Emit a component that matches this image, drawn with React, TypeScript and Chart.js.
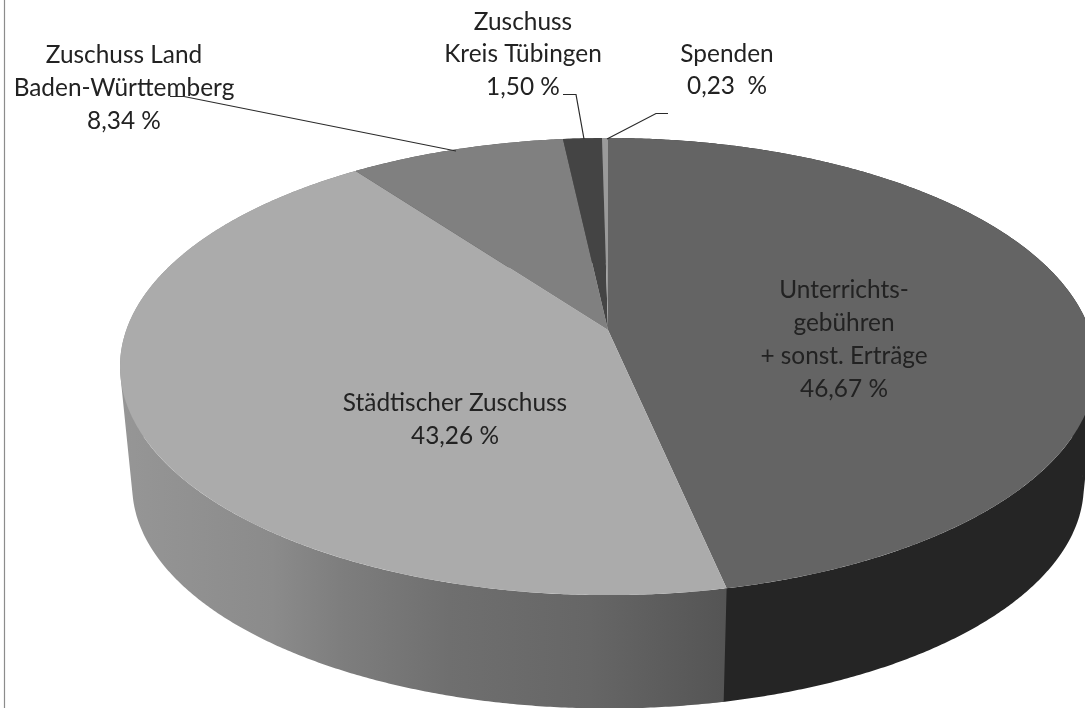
import React, { useEffect, useRef } from "react";
import { Chart, ArcElement, PieController, registerables } from "chart.js";

const categories = [
  ["Unterrichts-", "gebühren", "+ sonst. Erträge"],
  ["Städtischer Zuschuss"],
  ["Zuschuss Land", "Baden-Württemberg"],
  ["Zuschuss", "Kreis Tübingen"],
  ["Spenden"],
];
const shares = [46.67, 43.26, 8.34, 1.5, 0.23];
const shareLabels = ["46,67 %", "43,26 %", "8,34 %", "1,50 %", "0,23  %"];
const faceColours = ["#646464", "#ababab", "#808080", "#444444", "#9a9a9a"];

// Perspective view of the disc (angles come from the chart's arc elements)
const view = { cx: 608, cy: 330, a: 481.7, b: 222.7, k: 0.16 };
const floor = { dy: 120, s: 0.975 };

const project = (angle: number, lower = false) => {
  const u = Math.cos(angle), v = Math.sin(angle), w = 1 - view.k * v;
  const s = lower ? floor.s : 1;
  return {
    x: view.cx + (s * view.a * u) / w,
    y: view.cy + (lower ? floor.dy : 0) + (s * view.b * v) / w,
  };
};

class Arc3D extends ArcElement {
  static id = "arc3d";
  draw(ctx: CanvasRenderingContext2D) {
    const { startAngle, endAngle } = this as any;
    const steps = Math.max(2, Math.ceil((endAngle - startAngle) * 120));
    ctx.save();
    ctx.beginPath();
    ctx.moveTo(view.cx, view.cy);
    for (let i = 0; i <= steps; i++) {
      const p = project(startAngle + ((endAngle - startAngle) * i) / steps);
      ctx.lineTo(p.x, p.y);
    }
    ctx.closePath();
    ctx.fillStyle = (this as any).options.backgroundColor;
    ctx.fill();
    ctx.restore();
  }
}

class Pie3D extends PieController {
  static id = "pie3d";
  static defaults = { dataElementType: "arc3d" };
}

Chart.register(...registerables, Arc3D, Pie3D);

const wallFill = (ctx: CanvasRenderingContext2D, index: number) => {
  if (index !== 1) return index === 0 ? "#252525" : "#555555";
  const g = ctx.createLinearGradient(120, 0, 730, 0);
  [
    [0, "#969696"],
    [0.25, "#8b8b8b"],
    [0.36, "#7e7e7e"],
    [0.54, "#6f6f6f"],
    [0.77, "#666666"],
    [1, "#545454"],
  ].forEach(([o, c]) => g.addColorStop(o as number, c as string));
  return g;
};

const wallsPlugin = {
  id: "walls",
  beforeDatasetsDraw(chart: any) {
    const { ctx } = chart;
    chart.getDatasetMeta(0).data.forEach((arc: any, index: number) => {
      // a slight overlap under the next slice keeps the seam closed
      const start = arc.startAngle;
      const end = arc.endAngle + 0.004;
      const n = Math.ceil((end - start) * 150);
      ctx.save();
      ctx.fillStyle = wallFill(ctx, index);
      // every quad goes into one path, all wound the same way, so no seams or holes show
      ctx.beginPath();
      for (let i = 0; i < n; i++) {
        const a0 = start + ((end - start) * i) / n;
        const a1 = start + ((end - start) * (i + 1)) / n;
        const p = [project(a0), project(a1), project(a1, true), project(a0, true)];
        let area = 0;
        p.forEach((q, j) => {
          const r = p[(j + 1) % 4];
          area += q.x * r.y - r.x * q.y;
        });
        if (area < 0) p.reverse();
        ctx.moveTo(p[0].x, p[0].y);
        for (let j = 1; j < 4; j++) ctx.lineTo(p[j].x, p[j].y);
        ctx.closePath();
      }
      ctx.fill("nonzero");
      ctx.restore();
    });
  },
};

const labelLayout = [
  { x: 844, y: 290, lh: 33 },
  { x: 455, y: 403, lh: 33 },
  { x: 124, y: 55, lh: 33 },
  { x: 523, y: 22, lh: 32.5 },
  { x: 727, y: 54, lh: 32.5 },
];
const leaderLines = [
  [[170, 96.5], [184, 96.5], [456, 151]],
  [[563, 94.5], [576, 94.5], [584, 139]],
  [[668, 113.5], [656, 113.5], [607, 139]],
];

const annotationPlugin = {
  id: "annotations",
  afterDatasetsDraw(chart: any) {
    const { ctx } = chart;
    ctx.save();
    ctx.strokeStyle = "#8c8c8c";
    ctx.lineWidth = 1.2;
    ctx.beginPath();
    ctx.moveTo(4.5, 0);
    ctx.lineTo(4.5, 708);
    ctx.stroke();

    ctx.strokeStyle = "#2a2a2a";
    ctx.lineWidth = 1.2;
    leaderLines.forEach((line) => {
      ctx.beginPath();
      line.forEach(([x, y], i) => (i ? ctx.lineTo(x, y) : ctx.moveTo(x, y)));
      ctx.stroke();
    });

    ctx.fillStyle = "#222222";
    ctx.font = '24.4px Lato, "Open Sans", sans-serif';
    ctx.textAlign = "center";
    ctx.textBaseline = "middle";
    categories.forEach((lines, i) => {
      const { x, y, lh } = labelLayout[i];
      [...lines, shareLabels[i]].forEach((t, j) => ctx.fillText(t, x, y + j * lh));
    });
    ctx.restore();
  },
};

export default function App() {
  const ref = useRef<HTMLCanvasElement>(null);
  useEffect(() => {
    document.body.style.margin = "0";
    document.body.style.background = "#ffffff";
    const chart = new Chart(ref.current!, {
      type: "pie3d" as any,
      data: {
        labels: categories.map((c) => c.join(" ")),
        datasets: [{ data: shares, backgroundColor: faceColours, borderWidth: 0, clip: false } as any],
      },
      options: {
        animation: false,
        responsive: false,
        maintainAspectRatio: false,
        events: [],
        plugins: { legend: { display: false }, tooltip: { enabled: false } },
      },
      plugins: [wallsPlugin, annotationPlugin],
    } as any);
    return () => chart.destroy();
  }, []);
  return (
    <div style={{ position: "fixed", left: 0, top: 0, width: 1085, height: 708, overflow: "hidden" }}>
      <canvas ref={ref} width={1085} height={708} style={{ display: "block" }} />
    </div>
  );
}
